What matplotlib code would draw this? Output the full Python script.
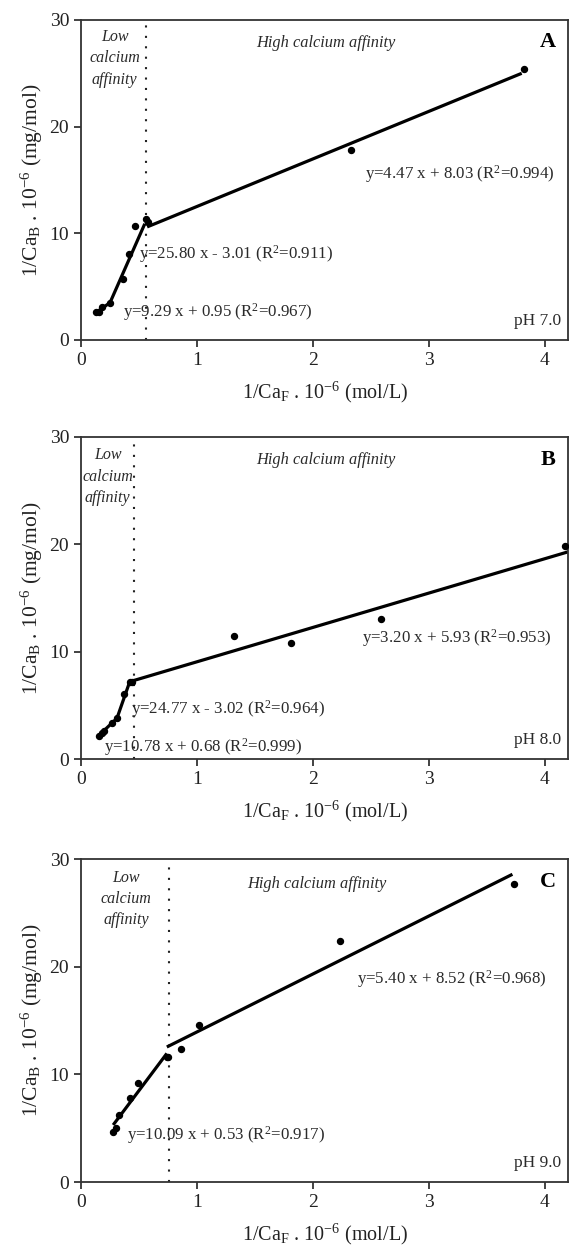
import matplotlib
matplotlib.use("Agg")
import matplotlib.pyplot as plt

plt.rcParams["font.family"] = ["Liberation Serif", "DejaVu Serif"]
plt.rcParams["mathtext.fontset"] = "custom"
plt.rcParams["mathtext.rm"] = "Liberation Serif"
plt.rcParams["mathtext.it"] = "Liberation Serif:italic"
plt.rcParams["mathtext.bf"] = "Liberation Serif:bold"

# Panel A (pH 7.0)
a_x = [0.13, 0.157, 0.18, 0.25, 0.36, 0.41, 0.466, 0.558, 0.578, 2.33, 3.82]
a_y = [2.6, 2.6, 3.05, 3.5, 5.76, 8.1, 10.65, 11.3, 11.06, 17.8, 25.4]
a_seg_x = [[0.12, 0.25], [0.25, 0.55], [0.57, 3.80]]
a_seg_y = [[2.5, 3.5], [3.5, 10.9], [10.6, 25.0]]
a_split = 0.558

# Panel B (pH 8.0)
b_x = [0.157, 0.178, 0.20, 0.263, 0.31, 0.37, 0.42, 0.44, 1.32, 1.81, 2.59, 4.17]
b_y = [2.14, 2.4, 2.64, 3.33, 3.8, 6.1, 7.15, 7.2, 11.46, 10.84, 13.08, 19.85]
b_seg_x = [[0.155, 0.31], [0.31, 0.42], [0.42, 4.2]]
b_seg_y = [[2.2, 3.8], [3.8, 7.2], [7.2, 19.3]]
b_split = 0.46

# Panel C (pH 9.0)
c_x = [0.277, 0.30, 0.33, 0.42, 0.49, 0.74, 0.75, 0.864, 1.02, 2.23, 3.73]
c_y = [4.67, 5.0, 6.2, 7.8, 9.16, 11.65, 11.6, 12.4, 14.6, 22.4, 27.7]
c_seg_x = [[0.277, 0.74], [0.74, 3.72]]
c_seg_y = [[5.3, 11.95], [12.55, 28.6]]
c_split = 0.755

panels = [
    dict(x=a_x, y=a_y, sx=a_seg_x, sy=a_seg_y, split=a_split, letter="A", ph="pH 7.0",
         low=(0.29, 26.4), high=(2.11, 27.8),
         eqs=[(0.50, 8.1, "y=25.80 x - 3.01 (R$^2$=0.911)"),
              (0.36, 2.6, "y=9.29 x + 0.95 (R$^2$=0.967)"),
              (2.45, 15.6, "y=4.47 x + 8.03 (R$^2$=0.994)")],
         rect=[0.1424, 0.7293, 0.856, 0.2548]),
    dict(x=b_x, y=b_y, sx=b_seg_x, sy=b_seg_y, split=b_split, letter="B", ph="pH 8.0",
         low=(0.23, 26.3), high=(2.11, 27.9),
         eqs=[(0.43, 4.66, "y=24.77 x - 3.02 (R$^2$=0.964)"),
              (0.20, 1.1, "y=10.78 x + 0.68 (R$^2$=0.999)"),
              (2.42, 11.3, "y=3.20 x + 5.93 (R$^2$=0.953)")],
         rect=[0.1424, 0.3957, 0.856, 0.2564]),
    dict(x=c_x, y=c_y, sx=c_seg_x, sy=c_seg_y, split=c_split, letter="C", ph="pH 9.0",
         low=(0.39, 26.3), high=(2.03, 27.7),
         eqs=[(2.38, 18.9, "y=5.40 x + 8.52 (R$^2$=0.968)"),
              (0.40, 4.36, "y=10.09 x + 0.53 (R$^2$=0.917)")],
         rect=[0.1424, 0.0589, 0.856, 0.257]),
]

fig = plt.figure(figsize=(5.69, 12.56), dpi=100)
txt = "#2a2a2a"

for p in panels:
    ax = fig.add_axes(p["rect"])
    ax.set_xlim(0, 4.2)
    ax.set_ylim(0, 30)
    ax.set_xticks([0, 1, 2, 3, 4])
    ax.set_yticks([0, 10, 20, 30])
    ax.tick_params(direction="out", length=5, width=1.2, labelsize=14, colors="#222222")
    for s in ax.spines.values():
        s.set_linewidth(1.3)
        s.set_color("#333333")

    ax.plot(p["x"], p["y"], "o", color="black", markersize=4.3, zorder=3)
    for sx, sy in zip(p["sx"], p["sy"]):
        ax.plot(sx, sy, "-", color="black", lw=2.3, solid_capstyle="butt", zorder=2)
    ax.axvline(p["split"], color="#222222", lw=1.5, linestyle=(0, (1, 4)), zorder=1)

    ax.text(p["low"][0], p["low"][1], "Low\ncalcium\naffinity", style="italic",
            fontsize=11.5, ha="center", va="center", color=txt, linespacing=1.45)
    ax.text(p["high"][0], p["high"][1], "High calcium affinity", style="italic",
            fontsize=11.8, ha="center", va="center", color=txt)
    for ex, ey, s in p["eqs"]:
        ax.text(ex, ey, s, fontsize=12.2, ha="left", va="center", color=txt)
    ax.text(0.975, 0.93, p["letter"], transform=ax.transAxes, fontsize=16,
            fontweight="bold", ha="right", va="center", color="black")
    ax.text(0.985, 0.06, p["ph"], transform=ax.transAxes, fontsize=12.5,
            ha="right", va="center", color=txt)

    ax.set_xlabel("1/Ca$_\\mathrm{F}$ . 10$^{-6}$ (mol/L)", fontsize=14.5,
                  color="#222222", labelpad=8)
    ax.set_ylabel("1/Ca$_\\mathrm{B}$ . 10$^{-6}$ (mg/mol)", fontsize=15.5,
                  color="#222222", labelpad=3)

fig.savefig("out.png", dpi=100)
